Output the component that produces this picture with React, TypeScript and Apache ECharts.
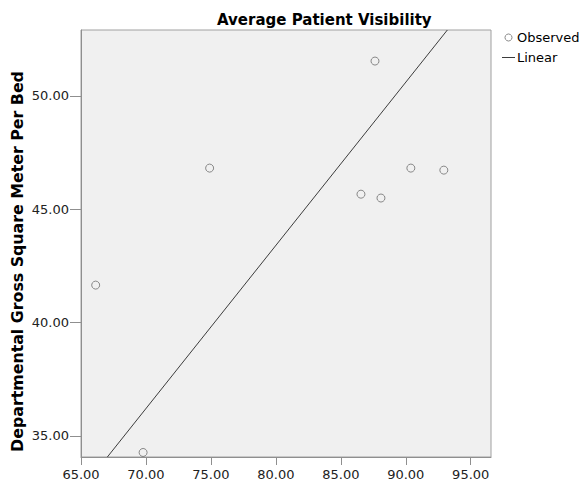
import React, { useEffect, useRef } from "react";
import * as echarts from "echarts";

const chartTitle = "Average Patient Visibility";
const yAxisTitle = "Departmental Gross Square Meter Per Bed";
const xTickValues = [65, 70, 75, 80, 85, 90, 95];
const yTickValues = [35, 40, 45, 50];
const observedX = [66.13, 69.78, 74.9, 87.63, 86.55, 88.09, 90.39, 92.93];
const observedY = [41.65, 34.27, 46.81, 51.53, 45.66, 45.49, 46.81, 46.72];
const linearX = [67.03, 93.2];
const linearY = [34.07, 52.9];

const FONT = "'DejaVu Sans', sans-serif";

export default function App() {
  const ref = useRef<HTMLDivElement>(null);
  useEffect(() => {
    if (!ref.current) return;
    const chart = echarts.init(ref.current, null, { renderer: "svg" });
    chart.setOption({
      animation: false,
      backgroundColor: "#ffffff",
      textStyle: { fontFamily: FONT },
      title: {
        text: chartTitle,
        left: 217,
        top: 12,
        padding: 0,
        textStyle: { fontFamily: FONT, fontSize: 15, fontWeight: "bold", color: "#000" },
      },
      legend: {
        orient: "vertical",
        left: 502,
        top: 31,
        padding: 0,
        itemWidth: 13,
        itemHeight: 7,
        itemGap: 7,
        textStyle: { fontFamily: FONT, fontSize: 13, color: "#000", padding: [0, 0, 0, -3] },
        data: [
          {
            name: "Observed",
            itemStyle: { color: "transparent", borderColor: "#6e6e6e", borderWidth: 1 },
          },
          { name: "Linear", icon: "path://M0 0 H13 V1 H0 Z", itemStyle: { color: "#3c3c3c", borderWidth: 0 } },
        ],
      },
      grid: {
        left: 81,
        right: 93,
        top: 30,
        bottom: 27,
        show: true,
        backgroundColor: "#f0f0f0",
        borderColor: "#a0a0a0",
        borderWidth: 1,
      },
      xAxis: {
        type: "value",
        min: 65,
        max: 96.56,
        splitLine: { show: false },
        axisLine: { show: true, lineStyle: { color: "#8f8f8f", width: 1 } },
        axisTick: { show: true, length: 8, lineStyle: { color: "#8f8f8f" }, customValues: xTickValues },
        axisLabel: {
          customValues: xTickValues,
          margin: 11,
          fontFamily: FONT,
          fontSize: 13,
          color: "#222",
          formatter: (v: number) => v.toFixed(2),
        },
      },
      yAxis: {
        type: "value",
        min: 34.07,
        max: 52.9,
        splitLine: { show: false },
        axisLine: { show: true, lineStyle: { color: "#8f8f8f", width: 1 } },
        axisTick: { show: true, length: 11, lineStyle: { color: "#8f8f8f" }, customValues: yTickValues },
        axisLabel: {
          customValues: yTickValues,
          margin: 12,
          fontFamily: FONT,
          fontSize: 13,
          color: "#222",
          formatter: (v: number) => v.toFixed(2),
        },
      },
      graphic: [
        {
          type: "text",
          x: 17.5,
          y: 261.5,
          rotation: Math.PI / 2,
          style: {
            text: yAxisTitle,
            x: 0,
            y: 0,
            align: "center",
            verticalAlign: "middle",
            fontFamily: FONT,
            fontSize: 15.8,
            fontWeight: "bold",
            fill: "#000",
          },
        },
      ],
      series: [
        {
          name: "Observed",
          type: "scatter",
          symbol: "circle",
          symbolSize: 8,
          itemStyle: { color: "transparent", borderColor: "#6e6e6e", borderWidth: 1 },
          data: observedX.map((x, i) => [x, observedY[i]]),
          z: 3,
        },
        {
          name: "Linear",
          type: "line",
          symbol: "none",
          showSymbol: false,
          lineStyle: { color: "#3c3c3c", width: 1 },
          itemStyle: { color: "#3c3c3c" },
          data: linearX.map((x, i) => [x, linearY[i]]),
          z: 2,
        },
      ],
    });
    return () => chart.dispose();
  }, []);
  return (
    <div
      ref={ref}
      style={{ position: "fixed", left: 0, top: 0, width: 584, height: 484 }}
    />
  );
}
